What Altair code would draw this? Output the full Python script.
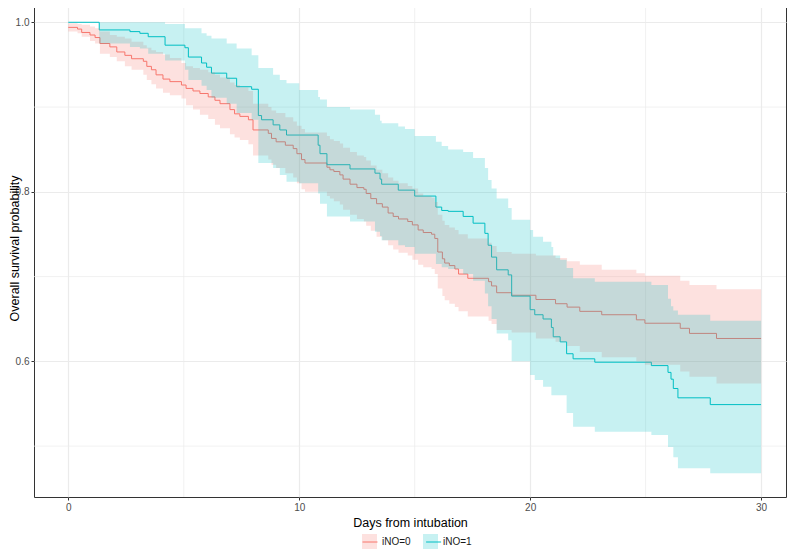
import altair as alt
import pandas as pd

# ---------------- data ----------------
groups = ["iNO=0", "iNO=1"]
colors = ["#F8766D", "#00BFC4"]

# iNO=0 : Kaplan-Meier step curve with confidence band
red_time = [0, 0.4, 0.58, 0.94, 1.16, 1.37, 1.8, 2.1, 2.45, 2.74, 3.25, 3.4, 3.6, 3.8,
            4.1, 4.4, 4.9, 5.1, 5.4, 5.7, 6.06, 6.35, 6.57, 7.0, 7.2, 7.43, 7.8, 8.0,
            8.66, 8.8, 9.0, 9.4, 9.74, 9.9, 10.1, 10.25, 11.2, 11.33, 11.5, 11.76, 11.9,
            12.2, 12.5, 12.8, 12.9, 13.1, 13.35, 13.6, 13.85, 14.07, 14.3, 14.7, 14.9,
            15.15, 15.37, 15.73, 15.87, 16.0, 16.2, 16.3, 16.5, 16.74, 16.9, 17.3, 18.2,
            18.33, 18.55, 19.2, 20.25, 21.1, 21.6, 22.15, 23.1, 24.6, 24.97, 26.5, 26.9,
            28.07, 30]
red_surv = [0.994, 0.992, 0.988, 0.985, 0.982, 0.975, 0.971, 0.965, 0.961, 0.957, 0.954,
            0.948, 0.944, 0.938, 0.933, 0.930, 0.926, 0.922, 0.919, 0.916, 0.912, 0.908,
            0.904, 0.897, 0.892, 0.889, 0.885, 0.873, 0.869, 0.863, 0.859, 0.855, 0.851,
            0.845, 0.838, 0.834, 0.829, 0.826, 0.824, 0.820, 0.815, 0.809, 0.805, 0.803,
            0.798, 0.792, 0.786, 0.782, 0.775, 0.771, 0.768, 0.765, 0.761, 0.755, 0.752,
            0.750, 0.745, 0.729, 0.721, 0.716, 0.713, 0.709, 0.703, 0.698, 0.694, 0.689,
            0.681, 0.678, 0.673, 0.668, 0.664, 0.659, 0.655, 0.649, 0.645, 0.639, 0.633,
            0.627, 0.627]
red_lower = [0.989, 0.987, 0.983, 0.978, 0.975, 0.963, 0.959, 0.954, 0.948, 0.944, 0.938,
             0.932, 0.927, 0.922, 0.917, 0.914, 0.910, 0.902, 0.897, 0.891, 0.886, 0.879,
             0.875, 0.868, 0.864, 0.861, 0.856, 0.843, 0.838, 0.832, 0.828, 0.822, 0.817,
             0.810, 0.803, 0.800, 0.795, 0.792, 0.789, 0.785, 0.779, 0.773, 0.768, 0.765,
             0.760, 0.754, 0.747, 0.743, 0.737, 0.732, 0.728, 0.725, 0.720, 0.714, 0.711,
             0.709, 0.703, 0.686, 0.677, 0.672, 0.668, 0.664, 0.659, 0.653, 0.648, 0.644,
             0.637, 0.634, 0.627, 0.623, 0.618, 0.611, 0.605, 0.600, 0.596, 0.588, 0.582,
             0.574, 0.574]
red_upper = [0.999, 0.998, 0.997, 0.995, 0.993, 0.989, 0.985, 0.983, 0.981, 0.977, 0.973,
             0.970, 0.967, 0.965, 0.962, 0.958, 0.952, 0.948, 0.946, 0.944, 0.941, 0.938,
             0.935, 0.929, 0.926, 0.923, 0.919, 0.904, 0.900, 0.896, 0.893, 0.888, 0.883,
             0.878, 0.874, 0.870, 0.866, 0.862, 0.860, 0.857, 0.852, 0.847, 0.843, 0.841,
             0.837, 0.831, 0.826, 0.822, 0.817, 0.813, 0.810, 0.807, 0.804, 0.798, 0.795,
             0.793, 0.788, 0.773, 0.766, 0.761, 0.758, 0.755, 0.750, 0.745, 0.740, 0.736,
             0.729, 0.727, 0.725, 0.722, 0.718, 0.714, 0.708, 0.704, 0.701, 0.695, 0.690,
             0.685, 0.685]

# iNO=1
cyan_time = [0, 1.34, 2.67, 3.1, 3.46, 4.19, 5.05, 5.2, 5.77, 5.99, 6.2, 6.86, 7.29, 7.94,
             8.23, 8.37, 8.87, 9.16, 9.45, 10.0, 10.82, 10.9, 11.2, 12.2, 13.28, 13.5, 13.57,
             14.29, 14.58, 15.0, 15.92, 16.17, 16.45, 17.1, 17.53, 18.04, 18.18, 18.33,
             18.55, 19.05, 19.2, 20.0, 20.13, 20.2, 20.56, 20.92, 21.0, 21.3, 21.58, 21.86,
             22.8, 25.25, 25.97, 26.1, 26.2, 26.4, 27.8, 30]
cyan_surv = [1.0, 0.991, 0.989, 0.987, 0.983, 0.973, 0.970, 0.959, 0.952, 0.947, 0.940,
             0.934, 0.924, 0.921, 0.890, 0.885, 0.879, 0.873, 0.867, 0.867, 0.855, 0.845,
             0.832, 0.827, 0.822, 0.815, 0.809, 0.802, 0.802, 0.795, 0.782, 0.778, 0.777,
             0.771, 0.763, 0.751, 0.737, 0.723, 0.708, 0.702, 0.677, 0.661, 0.661, 0.655,
             0.650, 0.640, 0.629, 0.623, 0.609, 0.603, 0.599, 0.595, 0.587, 0.579, 0.568,
             0.557, 0.549, 0.549]
cyan_lower = [1.0, 0.975, 0.971, 0.969, 0.963, 0.955, 0.944, 0.932, 0.925, 0.920, 0.911,
              0.904, 0.893, 0.885, 0.834, 0.834, 0.828, 0.820, 0.812, 0.810, 0.798, 0.786,
              0.771, 0.765, 0.753, 0.748, 0.743, 0.737, 0.735, 0.727, 0.715, 0.711, 0.709,
              0.703, 0.695, 0.680, 0.665, 0.650, 0.633, 0.625, 0.600, 0.584, 0.584, 0.578,
              0.570, 0.560, 0.560, 0.560, 0.539, 0.523, 0.517, 0.513, 0.499, 0.499, 0.487,
              0.474, 0.468, 0.468]
cyan_upper = [1.0, 1.0, 1.0, 1.0, 1.0, 0.998, 0.993, 0.993, 0.987, 0.984, 0.981, 0.975,
              0.969, 0.961, 0.946, 0.946, 0.938, 0.932, 0.928, 0.920, 0.912, 0.909, 0.900,
              0.897, 0.891, 0.884, 0.881, 0.877, 0.874, 0.866, 0.859, 0.854, 0.850, 0.847,
              0.840, 0.828, 0.814, 0.804, 0.792, 0.781, 0.767, 0.755, 0.747, 0.747, 0.741,
              0.735, 0.725, 0.720, 0.710, 0.698, 0.694, 0.690, 0.674, 0.665, 0.660, 0.655,
              0.648, 0.648]

x_major = [0, 10, 20, 30]
x_minor = [5, 15, 25]
y_major = [0.6, 0.8, 1.0]
y_minor = [0.5, 0.7, 0.9]

# ---------------- tables ----------------
df = pd.concat([
    pd.DataFrame({"time": red_time, "surv": red_surv, "lower": red_lower,
                  "upper": red_upper, "group": groups[0]}),
    pd.DataFrame({"time": cyan_time, "surv": cyan_surv, "lower": cyan_lower,
                  "upper": cyan_upper, "group": groups[1]}),
], ignore_index=True)
# band key: same labels plus a trailing space, so Vega-Lite keeps the fill legend
# (squares) separate from the stroke legend (lines) and they can be stacked
band_keys = [g + " " for g in groups]
df["band"] = df["group"] + " "
minor_x_df = pd.DataFrame({"time": x_minor})
minor_y_df = pd.DataFrame({"surv": y_minor})

FONT = "Liberation Sans"
xs = alt.Scale(domain=[-1.485, 31.08], nice=False, zero=False)
ys = alt.Scale(domain=[0.44, 1.0263], nice=False, zero=False)

x_axis = alt.Axis(values=x_major, title="Days from intubation", titleY=25,
                  titleBaseline="middle", labelPadding=2, format="d")
y_axis = alt.Axis(values=y_major, title="Overall survival probability", format=".1f",
                  titleX=-16, titleY=248, titleAngle=-90, titleBaseline="alphabetic",
                  titleAlign="center", labelPadding=2)

X = alt.X("time:Q", scale=xs, axis=x_axis)

grid_x = alt.Chart(minor_x_df).mark_rule(color="#EBEBEB", strokeWidth=0.7).encode(x=X)
grid_y = alt.Chart(minor_y_df).mark_rule(color="#EBEBEB", strokeWidth=0.7).encode(
    y=alt.Y("surv:Q", scale=ys, axis=y_axis))

leg_common = dict(orient="none", legendX=328, legendY=534, direction="horizontal",
                  title=None, symbolSize=225, labelFontSize=10, labelFont=FONT,
                  labelColor="#1A1A1A", labelOffset=5, padding=0)

# line keys: empty labels, column gap sized so each stroke sits on its square
lines = alt.Chart(df).mark_line(interpolate="step-after", strokeWidth=1).encode(
    x=X,
    y=alt.Y("surv:Q", scale=ys, axis=y_axis),
    stroke=alt.Stroke("group:N", scale=alt.Scale(domain=groups, range=colors),
                      legend=alt.Legend(symbolType="stroke", symbolStrokeWidth=1,
                                        labelExpr="''", columnPadding=40.6, zindex=2,
                                        **leg_common)),
)

bands = alt.Chart(df).mark_area(interpolate="step-after", opacity=0.22).encode(
    x=X,
    y=alt.Y("lower:Q", scale=ys, axis=y_axis),
    y2="upper:Q",
    fill=alt.Fill("band:N", scale=alt.Scale(domain=band_keys, range=colors),
                  legend=alt.Legend(symbolType="square", symbolStrokeWidth=0,
                                    symbolOpacity=0.22, labelExpr="trim(datum.label)",
                                    columnPadding=12, zindex=1, **leg_common)),
)

chart = alt.layer(grid_x, grid_y, lines, bands).properties(
    width=752, height=497,
    autosize=alt.AutoSizeParams(type="none"),
    padding={"left": 26, "top": -8, "right": 2, "bottom": 53},
).configure_view(
    stroke="#333333", strokeWidth=1
).configure_axis(
    grid=True, gridColor="#EBEBEB", gridWidth=1.2, domain=False,
    tickColor="#333333", tickSize=3, tickWidth=1,
    labelColor="#4D4D4D", labelFont=FONT, labelFontSize=10,
    titleFont=FONT, titleFontSize=12.5, titleFontWeight="normal", titleColor="#000000",
)

chart.save("out.html", embed_options={"renderer": "svg", "actions": False})
